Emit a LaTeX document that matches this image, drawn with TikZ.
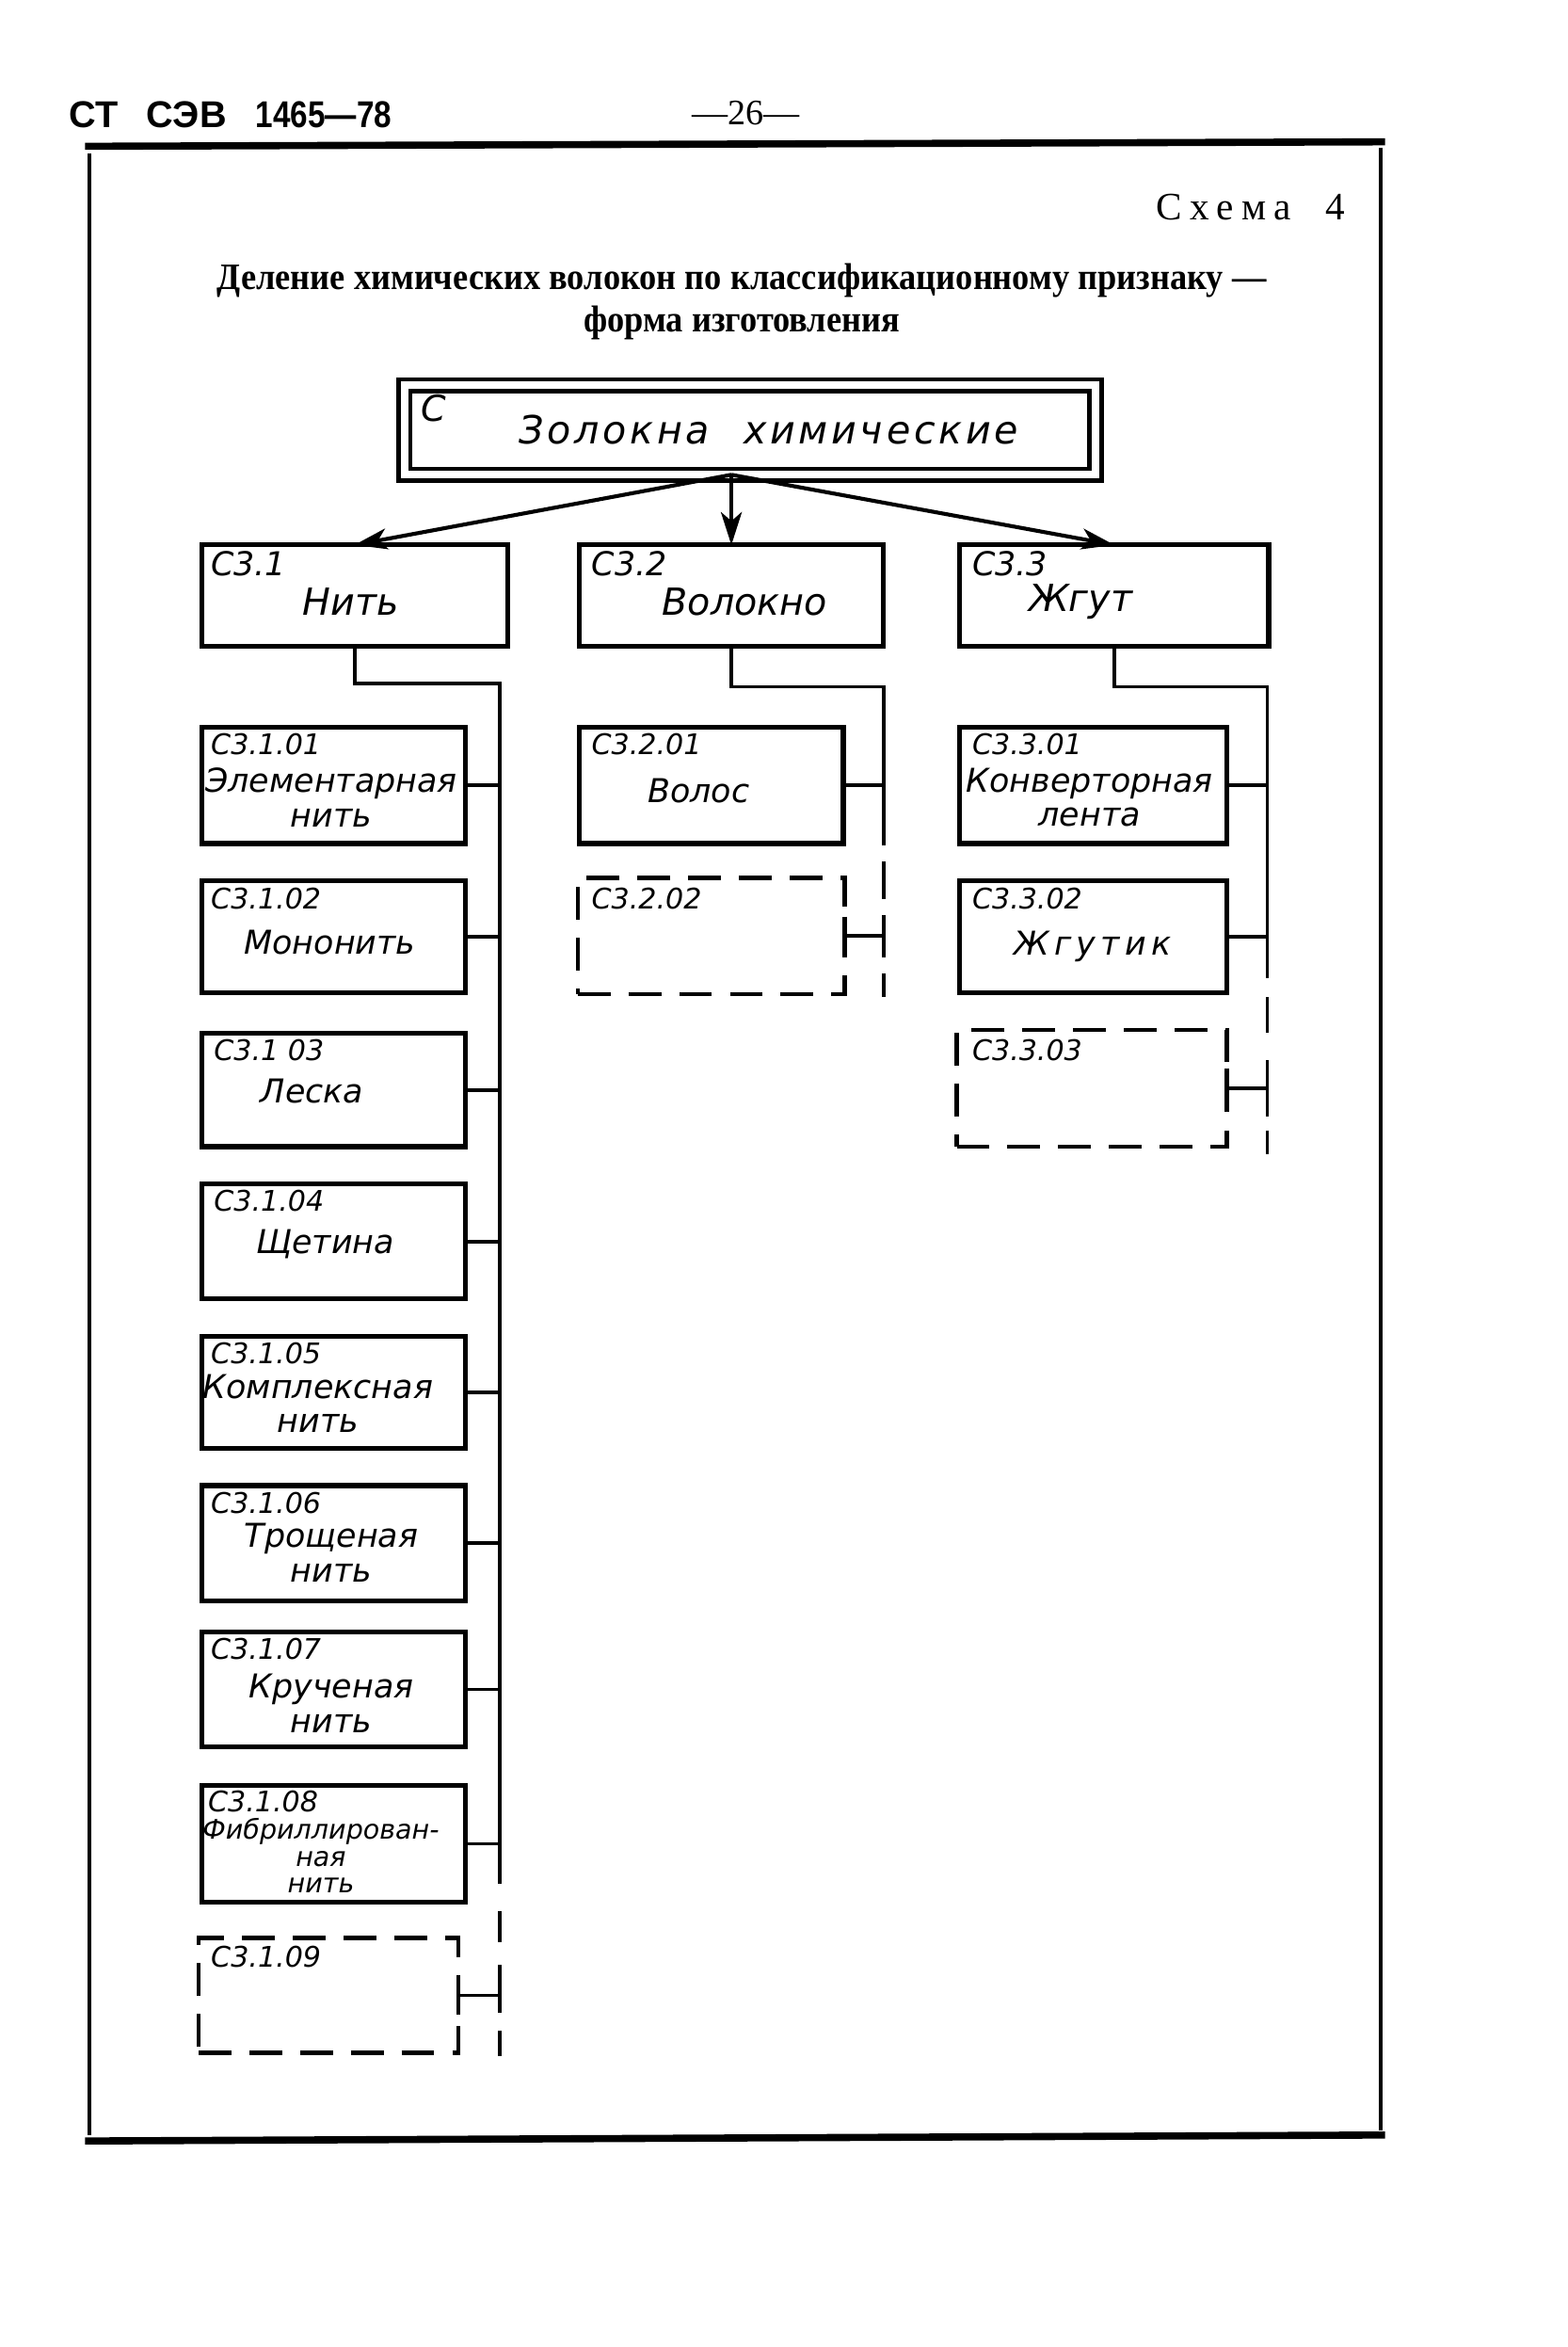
\documentclass[tikz,border=0pt]{standalone}
\usepackage{fontspec}
\usepackage{graphicx}
\setmainfont{Liberation Serif}
\newfontfamily\hand{DejaVu Sans}
\newfontfamily\headfont{Liberation Sans}
\usetikzlibrary{arrows.meta,calc}
\tikzset{
  boxst/.style={draw, line width=1.6pt, inner sep=0pt, outer sep=0pt, anchor=north west},
  dboxst/.style={draw, line width=1.4pt, inner sep=0pt, outer sep=0pt, anchor=north west, dash pattern=on 11pt off 6pt},
  codest/.style={anchor=north west, inner sep=0pt, font=\hand\itshape\fontsize{9.5}{11}\selectfont},
  bigcodest/.style={anchor=north west, inner sep=0pt, font=\hand\itshape\fontsize{11}{12}\selectfont},
  lblst/.style={inner sep=0pt, align=center, font=\hand\itshape\fontsize{11}{11.5}\selectfont},
  biglblst/.style={inner sep=0pt, align=center, font=\hand\itshape\fontsize{12.5}{14}\selectfont},
  connst/.style={line width=1.2pt},
  barst/.style={line width=1.4pt},
  arrst/.style={line width=1.3pt, -{Stealth[length=11pt,width=7pt,inset=3pt]}},
  framest/.style={line width=1.2pt},
  rulest/.style={line width=2.4pt},
  headst/.style={font=\headfont\bfseries\fontsize{12.5}{14}\selectfont, inner sep=0pt},
}
\newcommand\mkbox[6]{\node[#1, minimum width={(#5-#3)*0.5pt}, minimum height={(#6-#4)*0.5pt}] (#2) at (#3,#4) {};}
\begin{document}
\begin{tikzpicture}[x=0.5pt,y=-0.5pt]
\useasboundingbox (0,0) rectangle (1050,1572);
% header
\node[headst] (h1) at (63,77) {СТ};
\node[headst] (h2) at (125,77) {СЭВ};
\node[headst] (h3) at (217,77) {\scalebox{0.84}[1]{1465—78}};
\node[font=\fontsize{12}{14}\selectfont, inner sep=0pt] (pg) at (500,76) {—26—};
% frame
\draw[rulest] (57,98) -- (928,95);
\draw[framest] (60,103) -- (60,1430);
\draw[framest] (925,99) -- (925,1427);
\draw[rulest] (57,1434) -- (928,1430);
% captions
\node[font=\fontsize{13}{15}\selectfont\addfontfeature{LetterSpace=20}, inner sep=0pt] (schema) at (838,139) {Схема\ \ 4};
\node[font=\bfseries\fontsize{12.5}{14}\selectfont, inner sep=0pt] (title) at (497,188)
  {\scalebox{0.918}[1]{Деление химических волокон по классификационному признаку —}};
\node[font=\bfseries\fontsize{12.5}{14}\selectfont, inner sep=0pt] (title2) at (497,216)
  {\scalebox{0.918}[1]{форма изготовления}};
% top box
\node[draw, line width=1.4pt, double, double distance=2.6pt, inner sep=0pt, outer sep=0pt,
  minimum width={463*0.5pt}, minimum height={60*0.5pt}, anchor=north west] (top) at (271,258) {};
\node[bigcodest, font=\hand\itshape\fontsize{12}{13}\selectfont] (topc) at (282,264) {С};
\node[inner sep=0pt, font=\hand\itshape\fontsize{13}{14}\selectfont\addfontfeature{LetterSpace=9}] (topt) at (515,288) {Золокна\hspace{6pt} химические};
% level 2
\mkbox{boxst}{n1}{135}{365}{340}{433}
\mkbox{boxst}{n2}{388}{365}{592}{433}
\mkbox{boxst}{n3}{643}{365}{850}{433}
\node[bigcodest] (n1c) at (141,369) {С3.1};
\node[bigcodest] (n2c) at (396,369) {С3.2};
\node[bigcodest] (n3c) at (651,369) {С3.3};
\node[biglblst] (n1t) at (235,403) {Нить};
\node[biglblst] (n2t) at (499,403) {Волокно};
\node[biglblst] (n3t) at (724,403) {Жгут};
\coordinate (hub) at (top.south -| n2.north);
\draw[arrst] (hub) -- (n1.north);
\draw[arrst] (hub) -- (n2.north);
\draw[arrst] (hub) -- (n3.north);
% column 1
\mkbox{boxst}{b101}{135}{487}{312}{565}
\mkbox{boxst}{b102}{135}{590}{312}{665}
\mkbox{boxst}{b103}{135}{692}{312}{768}
\mkbox{boxst}{b104}{135}{793}{312}{870}
\mkbox{boxst}{b105}{135}{895}{312}{970}
\mkbox{boxst}{b106}{135}{995}{312}{1072}
\mkbox{boxst}{b107}{135}{1093}{312}{1170}
\mkbox{boxst}{b108}{135}{1196}{312}{1274}
\mkbox{dboxst}{b109}{133}{1298}{307}{1375}
\node[codest] (c101) at (141,491) {С3.1.01};
\node[codest] (c102) at (141,594) {С3.1.02};
\node[codest] (c103) at (143,696) {С3.1 03};
\node[codest] (c104) at (143,797) {С3.1.04};
\node[codest] (c105) at (141,899) {С3.1.05};
\node[codest] (c106) at (141,999) {С3.1.06};
\node[codest] (c107) at (141,1097) {С3.1.07};
\node[codest] (c108) at (139,1199) {С3.1.08};
\node[codest] (c109) at (141,1303) {С3.1.09};
\node[lblst] (t101) at (222,534) {Элементарная\\нить};
\node[lblst] (t102) at (221,631) {Мононить};
\node[lblst] (t103) at (209,731) {Леска};
\node[lblst] (t104) at (218,833) {Щетина};
\node[lblst] (t105) at (213,940) {Комплексная\\нить};
\node[lblst] (t106) at (222,1040) {Трощеная\\нить};
\node[lblst] (t107) at (222,1141) {Крученая\\нить};
\node[lblst, font=\hand\itshape\fontsize{9}{9}\selectfont] (t108) at (215,1243) {Фибриллирован-\\ная\\нить};
\coordinate (k1) at (335,458);
\draw[connst] (n1.south) |- (k1) -- (335,1262);
\draw[connst] (335,1280) -- (335,1301);
\draw[connst] (335,1316) -- (335,1348);
\draw[connst] (335,1360) -- (335,1377);
\foreach \b in {b101,b102,b103,b104,b105,b106,b107,b108,b109}
  \draw[connst] (\b.east) -- (\b.east -| k1);
\draw[barst] ($(b109.east)+(0,-13)$) -- ($(b109.east)+(0,13)$);
% column 2
\mkbox{boxst}{b201}{388}{487}{565}{565}
\mkbox{dboxst}{b202}{387}{588}{566}{666}
\node[codest] (c201) at (396,491) {С3.2.01};
\node[codest] (c202) at (396,594) {С3.2.02};
\node[lblst] (t201) at (468,530) {Волос};
\coordinate (k2) at (592,460);
\draw[connst] (n2.south) |- (k2) -- (592,566);
\draw[connst] (592,577) -- (592,602);
\draw[connst] (592,613) -- (592,641);
\draw[connst] (592,652) -- (592,668);
\foreach \b in {b201,b202}
  \draw[connst] (\b.east) -- (\b.east -| k2);
\draw[barst] ($(b202.east)+(0,-13)$) -- ($(b202.east)+(0,13)$);
% column 3
\mkbox{boxst}{b301}{643}{487}{822}{565}
\mkbox{boxst}{b302}{643}{590}{822}{665}
\mkbox{dboxst}{b303}{641}{690}{822}{768}
\node[codest] (c301) at (651,491) {С3.3.01};
\node[codest] (c302) at (651,594) {С3.3.02};
\node[codest] (c303) at (651,696) {С3.3.03};
\node[lblst] (t301) at (730,534) {Конверторная\\лента};
\node[lblst, font=\hand\itshape\fontsize{11}{12}\selectfont\addfontfeature{LetterSpace=15}] (t302) at (732,634) {Жгутик};
\coordinate (k3) at (849,460);
\draw[connst] (n3.south) |- (k3) -- (849,655);
\draw[connst] (849,668) -- (849,692);
\draw[connst] (849,710) -- (849,748);
\draw[connst] (849,757) -- (849,773);
\foreach \b in {b301,b302,b303}
  \draw[connst] (\b.east) -- (\b.east -| k3);
\draw[barst] ($(b303.east)+(0,-13)$) -- ($(b303.east)+(0,13)$);
\end{tikzpicture}
\end{document}
